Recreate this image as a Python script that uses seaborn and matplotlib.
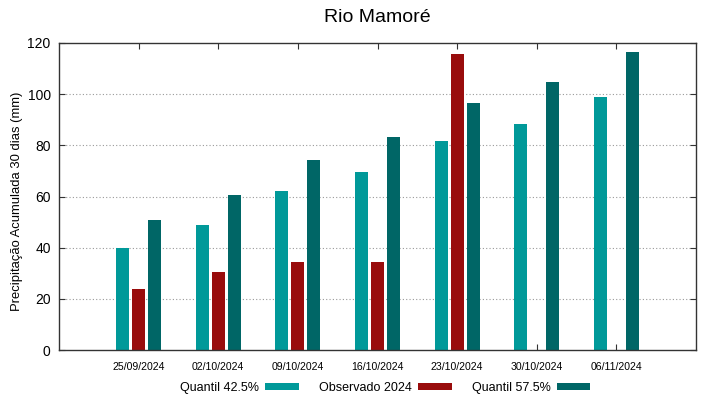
import numpy as np
import pandas as pd
import matplotlib
matplotlib.use("Agg")
import matplotlib.pyplot as plt
import seaborn as sns
from matplotlib.patches import Patch

dates = ["25/09/2024", "02/10/2024", "09/10/2024", "16/10/2024",
         "23/10/2024", "30/10/2024", "06/11/2024"]
q425 = [40, 49, 62, 69.5, 81.7, 88.4, 99.0]
obs2024 = [24, 30.4, 34.5, 34.5, 115.8, np.nan, np.nan]
q575 = [51, 60.6, 74.1, 83.1, 96.6, 104.6, 116.5]
series_names = ["Quantil 42.5%", "Observado 2024", "Quantil 57.5%"]
colors = ["#009999", "#990c0c", "#006666"]

df = pd.DataFrame({
    "date": dates * 3,
    "value": q425 + obs2024 + q575,
    "serie": [series_names[0]] * 7 + [series_names[1]] * 7 + [series_names[2]] * 7,
})

sns.set_style("white")
plt.rcParams["font.family"] = ["Liberation Sans", "DejaVu Sans"]
plt.rcParams["text.color"] = "black"
plt.rcParams["axes.labelcolor"] = "black"
plt.rcParams["xtick.color"] = "black"
plt.rcParams["ytick.color"] = "black"

fig = plt.figure(figsize=(7.19, 3.99), dpi=100)
ax = fig.add_axes([59 / 719, 1 - 350 / 399, (696 - 59) / 719, (350 - 43) / 399])

sns.barplot(data=df, x="date", y="value", hue="serie", order=dates,
            hue_order=series_names, palette=colors, width=0.6, gap=0.18,
            saturation=1, ax=ax, legend=False, linewidth=0)

ax.set_xlim(-1, 7)
ax.set_ylim(0, 120)
ax.set_yticks([0, 20, 40, 60, 80, 100, 120])
for yv in [20, 40, 60, 80, 100]:
    ax.axhline(yv, color="#999999", linestyle=(0, (1, 2)), linewidth=0.8, zorder=0)
ax.set_axisbelow(True)
ax.tick_params(axis="x", labelsize=7.6, direction="in", length=4, top=True,
               bottom=True, width=0.8, pad=9, color="#333333")
ax.tick_params(axis="y", labelsize=10, direction="in", length=4, left=True,
               right=True, width=0.8, pad=6, color="#333333")
for s in ax.spines.values():
    s.set_color("#333333")
    s.set_linewidth(1)
ax.set_xlabel("")
ax.set_ylabel("Precipitação Acumulada 30 dias (mm)", fontsize=9.4)
ax.yaxis.set_label_coords(-36 / 637, (350 - 201) / 307)
ax.set_title("Rio Mamoré", fontsize=14, pad=15)

handles = [Patch(facecolor=c, edgecolor="none") for c in colors]
fig.legend(handles, series_names, loc="center", bbox_to_anchor=(385 / 719, 1 - 388 / 399),
           ncol=3, frameon=False, markerfirst=False, fontsize=9,
           handlelength=2.7, handleheight=0.55, columnspacing=1.6, handletextpad=0.5)

fig.savefig("out.png", dpi=100)
